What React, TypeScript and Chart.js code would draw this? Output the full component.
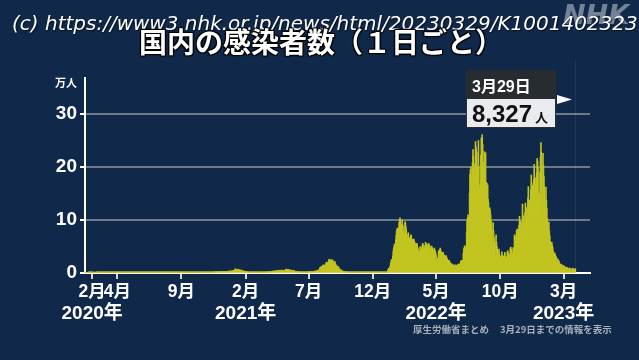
import React, { useEffect, useRef } from 'react';
import { Chart, registerables } from 'chart.js';

Chart.register(...registerables);

// ---- data: daily new cases (persons), one row per week, Thu..Wed ----
const seriesStart = '2020-01-16';
const axisStart = '2020-01-15';
const axisEnd = '2023-05-03';

// weeks starting Thu 2020-01-16 ... Thu 2020-12-31
const cases2020 = [
  1, 0, 0, 0, 0, 0, 0,
  1, 0, 1, 1, 1, 3, 2,
  4, 2, 3, 0, 0, 1, 1,
  0, 0, 0, 0, 3, 13, 8,
  12, 4, 2, 3, 5, 2, 5,
  10, 11, 24, 6, 12, 9, 13,
  24, 17, 12, 16, 15, 17, 21,
  32, 59, 47, 33, 35, 27, 54,
  52, 62, 63, 52, 15, 44, 36,
  39, 35, 45, 40, 42, 39, 69,
  96, 112, 64, 68, 87, 77, 199,
  235, 268, 359, 360, 255, 344, 503,
  576, 656, 714, 507, 389, 460, 515,
  588, 564, 570, 360, 361, 318, 434,
  432, 373, 296, 200, 148, 188, 200,
  160, 275, 300, 200, 100, 80, 120,
  90, 80, 100, 60, 50, 80, 60,
  80, 60, 40, 30, 20, 30, 30,
  30, 30, 20, 10, 20, 30, 40,
  50, 30, 40, 40, 40, 40, 40,
  50, 40, 50, 40, 30, 40, 50,
  50, 50, 50, 50, 40, 30, 40,
  40, 70, 50, 60, 30, 50, 60,
  80, 100, 90, 110, 90, 110, 140,
  190, 250, 270, 210, 190, 200, 190,
  350, 390, 400, 290, 250, 320, 420,
  590, 290, 660, 510, 420, 630, 800,
  980, 770, 720, 840, 600, 980, 1260,
  1300, 1580, 1460, 1330, 960, 1240, 1360,
  1480, 1600, 1400, 1200, 800, 800, 1200,
  1170, 1360, 1220, 1000, 560, 800, 1100,
  1000, 1000, 900, 800, 500, 600, 800,
  900, 800, 800, 600, 400, 500, 600,
  600, 600, 500, 500, 300, 400, 500,
  600, 600, 600, 400, 200, 300, 500,
  500, 600, 600, 400, 300, 200, 400,
  500, 600, 500, 400, 300, 500, 600,
  600, 560, 600, 400, 300, 500, 600,
  700, 600, 600, 400, 300, 500, 600,
  600, 500, 600, 400, 300, 500, 700,
  700, 800, 700, 600, 400, 700, 800,
  800, 900, 900, 600, 500, 800, 1200,
  1100, 1100, 1300, 900, 800, 1300, 1500,
  1700, 1700, 1700, 1400, 900, 1700, 2200,
  2400, 2400, 2100, 1500, 1200, 1900, 2200,
  2500, 2500, 2700, 2000, 1500, 2000, 2500,
  2500, 2400, 2500, 2100, 1500, 2300, 2800,
  2900, 2800, 3000, 2400, 1700, 2700, 3000,
  3200, 2900, 2900, 2500, 1800, 2600, 3200,
  3800, 3800, 3400, 3000, 2000, 3000, 3600,
  4500, 3200, 3100, 4000, 4900, 4900, 6000,
];

// weeks starting Thu 2021-01-07 ... Thu 2021-12-30
const cases2021 = [
  7500, 7900, 7000, 6100, 4900, 4500, 5900,
  6600, 7100, 6400, 4900, 3100, 4900, 5600,
  5300, 4700, 4400, 3900, 2000, 3800, 3600,
  3500, 3100, 3300, 2600, 1500, 2300, 2600,
  2600, 2300, 1900, 1700, 1000, 1600, 1700,
  1500, 1400, 1400, 1300, 900, 1300, 1500,
  1300, 1100, 1300, 1200, 700, 900, 1000,
  1100, 1100, 1000, 900, 600, 800, 1200,
  1200, 1100, 1100, 1100, 700, 1100, 1300,
  1300, 1300, 1300, 1100, 800, 1300, 1500,
  1500, 1500, 1500, 1300, 800, 1500, 1900,
  2000, 2000, 2100, 1800, 1100, 2100, 2600,
  2600, 2700, 2800, 2500, 1600, 2600, 3400,
  3400, 3700, 3700, 2800, 2100, 3400, 4300,
  4500, 4500, 4800, 4100, 2800, 3800, 4900,
  5100, 5100, 5100, 4600, 3300, 4300, 5800,
  4700, 4700, 4800, 4000, 3000, 3800, 4600,
  4300, 6000, 7200, 6300, 4600, 5500, 7000,
  6800, 6200, 6400, 5200, 3600, 5200, 5600,
  5400, 5000, 4800, 4000, 2600, 3900, 4100,
  4500, 3900, 3500, 3100, 1900, 2700, 3000,
  2800, 2700, 2600, 2000, 1400, 1600, 2000,
  2000, 1900, 1800, 1600, 900, 1300, 1500,
  1700, 1600, 1500, 1300, 800, 1400, 1800,
  1800, 1800, 1700, 1500, 1000, 1600, 2000,
  2100, 2000, 2000, 1700, 1000, 2000, 2700,
  2600, 2800, 2600, 2300, 1300, 2200, 3200,
  3400, 3500, 3600, 3000, 1800, 3800, 5000,
  5400, 4900, 4500, 3800, 3600, 7600, 9500,
  10700, 10800, 12300, 10100, 8400, 12000, 14200,
  15200, 14800, 14900, 12800, 10000, 10000, 15800,
  18900, 20400, 20100, 17800, 13000, 19900, 23900,
  25200, 25900, 25300, 22100, 14500, 21500, 24100,
  24800, 24500, 22700, 19300, 12000, 19700, 22000,
  20000, 17000, 16000, 13000, 8000, 11000, 13000,
  12000, 11000, 10000, 7500, 4200, 6000, 6800,
  5600, 5200, 4600, 4000, 2200, 1800, 2100,
  3400, 3000, 2300, 2000, 1100, 2100, 2100,
  1900, 1600, 1400, 1100, 600, 900, 1100,
  1000, 900, 800, 600, 300, 400, 600,
  600, 500, 400, 400, 200, 300, 400,
  300, 300, 300, 260, 150, 240, 300,
  280, 260, 200, 180, 90, 170, 200,
  170, 190, 170, 160, 60, 100, 200,
  200, 170, 160, 130, 80, 130, 120,
  110, 120, 100, 90, 50, 80, 120,
  120, 110, 110, 110, 60, 90, 130,
  140, 120, 110, 110, 80, 110, 140,
  160, 150, 130, 110, 90, 130, 190,
  160, 150, 170, 150, 100, 180, 250,
  250, 280, 260, 210, 170, 390, 370,
  500, 500, 500, 550, 800, 1300, 2600,
];

// weeks starting Thu 2022-01-06 ... Thu 2022-12-29
const cases2022 = [
  4500, 6200, 8500, 8200, 6400, 11500, 13200,
  18800, 22000, 25700, 25400, 22000, 32100, 41500,
  46200, 49800, 54600, 52000, 43000, 62600, 71600,
  78900, 81800, 84900, 78000, 59000, 84200, 94800,
  100800, 104200, 99400, 91000, 60000, 92500, 100500,
  91000, 89000, 80000, 68000, 58000, 75000, 97000,
  94000, 87000, 81000, 70000, 54000, 65000, 73000,
  76000, 68000, 66000, 60000, 42000, 65000, 72000,
  70000, 64000, 63000, 56000, 36000, 61000, 64000,
  60000, 57000, 56000, 50000, 32000, 46000, 56000,
  53000, 48000, 45000, 42000, 21000, 23000, 40000,
  50000, 47000, 47000, 43000, 27000, 51000, 56000,
  53000, 50000, 49000, 46000, 30000, 52000, 58000,
  55000, 53000, 53000, 47000, 30000, 53000, 56000,
  54000, 51000, 50000, 42000, 27000, 46000, 51000,
  49000, 47000, 45000, 41000, 25000, 44000, 47000,
  43000, 40000, 38000, 34000, 20000, 27000, 25000,
  25000, 29000, 42000, 34000, 26000, 44000, 47000,
  43000, 40000, 39000, 35000, 19000, 38000, 39000,
  35000, 34000, 32000, 28000, 17000, 31000, 33000,
  30000, 27000, 26000, 22000, 12000, 23000, 24000,
  21000, 20000, 19000, 17000, 9000, 17000, 17000,
  16000, 15000, 14000, 13000, 7000, 15000, 15000,
  15000, 14000, 14000, 13000, 6800, 15000, 16000,
  17000, 16000, 16000, 15000, 8000, 19000, 22000,
  23000, 23000, 24000, 23000, 14000, 37000, 45000,
  47000, 51000, 51000, 47000, 30000, 38000, 76000,
  97000, 103000, 110000, 105000, 53000, 67000, 151000,
  186000, 195000, 200000, 180000, 128000, 196000, 209000,
  233000, 220000, 198000, 190000, 133000, 206000, 248000,
  238000, 232000, 227000, 201000, 119000, 175000, 250000,
  200000, 158000, 148000, 167000, 119000, 222000, 255000,
  255000, 261000, 243000, 192000, 148000, 209000, 229000,
  198000, 226000, 227000, 171000, 132000, 170000, 159000,
  166000, 139000, 133000, 116000, 78000, 123000, 118000,
  110000, 98000, 91000, 80000, 50000, 47000, 95000,
  80000, 68000, 60000, 56000, 30000, 34000, 72000,
  58000, 50000, 44000, 32000, 24000, 39000, 45000,
  35000, 32000, 30000, 27000, 15000, 33000, 40000,
  34000, 31000, 32000, 29000, 15000, 11000, 39000,
  32000, 30000, 30000, 27000, 16000, 40000, 42000,
  37000, 37000, 34000, 31000, 19000, 46000, 49000,
  45000, 43000, 38000, 35000, 21000, 48000, 46000,
  33000, 72000, 70000, 60000, 32000, 69000, 80000,
  81000, 83000, 82000, 73000, 44000, 90000, 107000,
  99000, 97000, 91000, 84000, 48000, 97000, 130000,
  103000, 108000, 103000, 92000, 52000, 114000, 132000,
  124000, 122000, 118000, 104000, 64000, 142000, 163000,
  137000, 138000, 136000, 120000, 73000, 158000, 185000,
  170000, 165000, 164000, 139000, 93000, 177000, 205000,
  177000, 180000, 172000, 136000, 100000, 189000, 216000,
  211000, 199000, 151000, 147000, 150000, 121000, 191000,
];

// weeks starting Thu 2023-01-05 ... Thu 2023-03-23 (last day Wed 2023-03-29)
const cases2023 = [
  219000, 246000, 228000, 185000, 103000, 90000, 226000,
  204000, 182000, 163000, 142000, 66000, 114000, 162000,
  137000, 122000, 103000, 93000, 46000, 73000, 96000,
  80000, 70000, 60000, 52000, 24000, 48000, 58000,
  52000, 48000, 42000, 35000, 17000, 33000, 38000,
  34000, 32000, 31000, 21000, 12000, 15000, 27000,
  24000, 23000, 22000, 18000, 8000, 15000, 17000,
  11000, 16000, 15000, 12000, 6000, 12000, 14000,
  13000, 12000, 11000, 9000, 5000, 10000, 11000,
  10000, 9500, 9000, 7000, 3600, 8000, 9500,
  9000, 8000, 7000, 6000, 3000, 5000, 9000,
  9000, 8000, 7500, 6500, 3000, 7000, 8327,
];

const tickDates = ['2020-02-01', '2020-04-01', '2020-09-01', '2021-02-01', '2021-07-01', '2021-12-01', '2022-05-01', '2022-10-01', '2023-03-01'];
const tickMonths = ['2月', '4月', '9月', '2月', '7月', '12月', '5月', '10月', '3月'];
const yearDates = ['2020-02-01', '2021-02-01', '2022-05-01', '2023-03-01'];
const yearLabels = ['2020年', '2021年', '2022年', '2023年'];
const yTicks = [0, 100000, 200000, 300000];
const yMax = 368000;
const lastDateLabel = '3月29日';
const lastValueLabel = '8,327';
const lastUnit = '人';

const BG = '#10284a';
const BAR = '#c2c420';
const LATIN = "'Liberation Sans', 'Noto Sans CJK JP', sans-serif";
const JP = "'Noto Sans CJK JP', sans-serif";

const dayNum = (s: string) => Math.round((Date.parse(s) - Date.parse(seriesStart)) / 86400000);

export default function App() {
  const ref = useRef<HTMLCanvasElement | null>(null);

  useEffect(() => {
    document.body.style.margin = '0';
    const all = [...cases2020, ...cases2021, ...cases2022, ...cases2023];
    const data = all.map((v, i) => ({ x: i, y: v }));
    const lastIndex = all.length - 1;

    const overlay = {
      id: 'overlay',
      beforeDatasetsDraw(chart: any) {
        const { ctx, scales, chartArea } = chart;
        const lx = Math.round(scales.x.getPixelForValue(lastIndex)) + 0.5;
        ctx.save();
        ctx.strokeStyle = 'rgba(255,255,255,0.07)';
        ctx.lineWidth = 1;
        ctx.beginPath();
        ctx.moveTo(lx, 60);
        ctx.lineTo(lx, chartArea.bottom);
        ctx.stroke();
        ctx.restore();
      },
      afterDraw(chart: any) {
        const { ctx, scales } = chart;
        ctx.save();
        // year labels
        ctx.fillStyle = '#ffffff';
        ctx.font = `bold 19px ${LATIN}`;
        ctx.textAlign = 'center';
        ctx.textBaseline = 'alphabetic';
        yearDates.forEach((d, i) => {
          const px = scales.x.getPixelForValue(dayNum(d));
          ctx.fillText(yearLabels[i], px, 319);
        });
        // tooltip for the latest day
        const lx = scales.x.getPixelForValue(lastIndex);
        const right = Math.round(lx - 19);
        const left = right - 90;
        const top = 70;
        ctx.fillStyle = '#262c30';
        ctx.fillRect(left, top, 90, 28);
        ctx.fillStyle = '#e9ecef';
        ctx.fillRect(left, top + 28, 90, 30);
        ctx.strokeStyle = '#2a2f33';
        ctx.lineWidth = 1;
        ctx.strokeRect(left + 0.5, top + 28.5, 89, 29);
        ctx.textAlign = 'left';
        ctx.fillStyle = '#ffffff';
        ctx.font = `bold 16px ${LATIN}`;
        ctx.fillText(lastDateLabel, left + 6, top + 22);
        ctx.fillStyle = '#111111';
        ctx.font = `bold 24px ${LATIN}`;
        ctx.fillText(lastValueLabel, left + 6, top + 52);
        const w = ctx.measureText(lastValueLabel).width;
        ctx.font = `bold 13px ${JP}`;
        ctx.fillText(lastUnit, left + 9 + w, top + 52);
        // arrow
        ctx.fillStyle = '#ffffff';
        ctx.beginPath();
        ctx.moveTo(right + 1, 95);
        ctx.lineTo(right + 16, 99.5);
        ctx.lineTo(right + 1, 104);
        ctx.closePath();
        ctx.fill();
        ctx.restore();
      },
    };

    const chart = new Chart(ref.current as HTMLCanvasElement, {
      type: 'bar',
      data: {
        datasets: [
          {
            data: data as any,
            backgroundColor: BAR,
            borderWidth: 0,
            barThickness: 1,
          },
        ],
      },
      options: {
        responsive: false,
        animation: false,
        devicePixelRatio: 1,
        layout: { padding: { top: 78, right: 49, left: 0, bottom: 0 } },
        plugins: { legend: { display: false }, tooltip: { enabled: false } },
        scales: {
          x: {
            type: 'linear',
            offset: false,
            min: dayNum(axisStart),
            max: dayNum(axisEnd),
            afterBuildTicks: (s: any) => {
              s.ticks = tickDates.map((d) => ({ value: dayNum(d) }));
            },
            afterFit: (s: any) => {
              s.height = 87;
              s.paddingLeft = 0;
              s.paddingRight = 0;
            },
            ticks: {
              autoSkip: false,
              maxRotation: 0,
              minRotation: 0,
              color: '#ffffff',
              padding: 3,
              font: { family: LATIN, size: 17.5, weight: 'bold' },
              callback: (_v: any, i: number) => tickMonths[i],
            },
            grid: {
              offset: false,
              drawOnChartArea: false,
              drawTicks: true,
              tickLength: 6,
              tickColor: '#d8d8d8',
              lineWidth: 2,
            },
            border: { color: '#ffffff', width: 2 },
          },
          y: {
            min: 0,
            max: yMax,
            afterBuildTicks: (s: any) => {
              s.ticks = yTicks.map((v) => ({ value: v }));
            },
            afterFit: (s: any) => {
              s.width = 85;
              s.paddingTop = 0;
              s.paddingBottom = 0;
            },
            ticks: {
              color: '#ffffff',
              padding: 3,
              font: { family: LATIN, size: 19, weight: 'bold' },
              callback: (v: any) => String(Number(v) / 10000),
            },
            grid: {
              color: (c: any) => (c.tick && c.tick.value === 0 ? 'rgba(0,0,0,0)' : 'rgba(140,148,160,0.75)'),
              lineWidth: 2,
              tickColor: '#ffffff',
              tickLength: 5,
            },
            border: { color: '#ffffff', width: 2 },
          },
        },
      },
      plugins: [overlay],
    } as any);

    return () => chart.destroy();
  }, []);

  return (
    <div style={{ position: 'relative', width: 639, height: 360, background: BG, overflow: 'hidden' }}>
      <canvas ref={ref} width={639} height={360} style={{ position: 'absolute', left: 0, top: 0 }} />
      <div
        style={{
          position: 'absolute', left: 563, top: 1, fontFamily: "'DejaVu Sans', sans-serif", fontWeight: 'bold',
          fontStyle: 'italic', fontSize: 27, lineHeight: '27px', color: 'rgba(150,160,175,0.75)', whiteSpace: 'nowrap',
        }}
      >
        NHK
      </div>
      <div
        style={{
          position: 'absolute', left: 12, top: 13, fontFamily: "'DejaVu Sans', sans-serif", fontStyle: 'italic',
          fontSize: 20, lineHeight: '20px', color: '#ffffff', whiteSpace: 'nowrap', textShadow: '1px 1px 1px rgba(0,0,0,0.6)',
        }}
      >
        (c) https://www3.nhk.or.jp/news/html/20230329/K10014023231000.html
      </div>
      <div
        style={{
          position: 'absolute', left: 139, top: 27, fontFamily: JP, fontWeight: 'bold', fontSize: 28, lineHeight: '28px',
          color: '#ffffff', whiteSpace: 'nowrap',
          textShadow: '0 0 2px #000, 1px 1px 1px #000, -1px -1px 1px #000, 1px -1px 1px #000, -1px 1px 1px #000',
        }}
      >
        国内の感染者数（１日ごと）
      </div>
      <div
        style={{
          position: 'absolute', left: 55, top: 77, fontFamily: JP, fontWeight: 'bold', fontSize: 11, lineHeight: '11px',
          color: '#ffffff', whiteSpace: 'nowrap',
        }}
      >
        万人
      </div>
      <div
        style={{
          position: 'absolute', left: 413, top: 324, fontFamily: JP, fontWeight: 'bold', fontSize: 9.5, lineHeight: '10px',
          color: '#a9b0ba', whiteSpace: 'nowrap',
        }}
      >
        厚生労働省まとめ
      </div>
      <div
        style={{
          position: 'absolute', left: 500, top: 324, fontFamily: JP, fontWeight: 'bold', fontSize: 9.5, lineHeight: '10px',
          color: '#a9b0ba', whiteSpace: 'nowrap',
        }}
      >
        3月29日までの情報を表示
      </div>
    </div>
  );
}
